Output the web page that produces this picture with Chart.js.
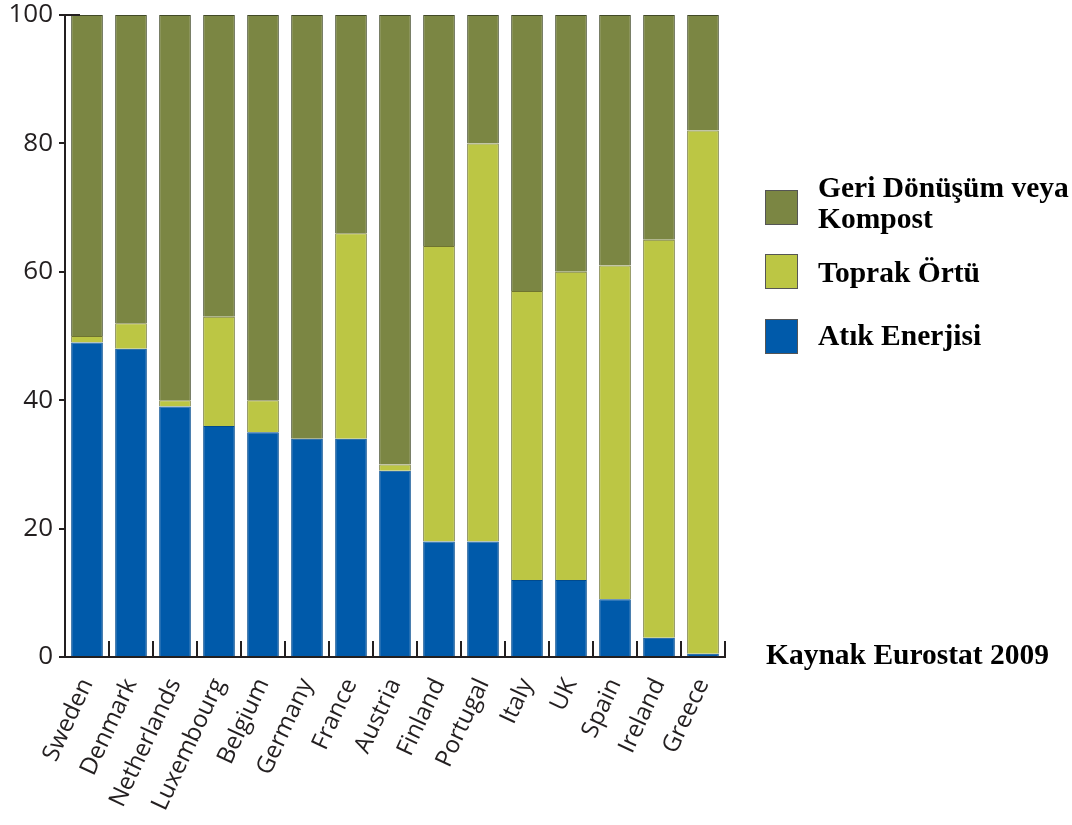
<!DOCTYPE html>
<html>
<head>
<meta charset="utf-8">
<script src="https://cdn.jsdelivr.net/npm/chart.js@4/dist/chart.umd.min.js"></script>
<style>
	body { margin: 0; background: #fff; }
	#wrap { position: relative; width: 1072px; height: 825px; }
	#chart { position: absolute; left: 0; top: 0; }
	.legend { position: absolute; left: 765px; top: 0; width: 307px; height: 400px; font-family: "Liberation Serif", "Times New Roman", serif; font-weight: bold; font-size: 29.5px; color: #000; }
	.box { position: absolute; left: 0; width: 33px; height: 35px; border: 1px solid #555; box-sizing: border-box; }
	.label { position: absolute; left: 53px; line-height: 31px; white-space: nowrap; }
	#source { position: absolute; left: 766px; top: 639px; line-height: 30px; font-family: "Liberation Serif", "Times New Roman", serif; font-weight: bold; font-size: 29.5px; white-space: nowrap; }
</style>
</head>
<body>
<div id="wrap">
	<canvas id="chart" width="1072" height="825"></canvas>
	<div class="legend" id="legend"></div>
	<div id="source">Kaynak Eurostat 2009</div>
</div>
<script>
//	Countries along the x axis
var countries = ["Sweden", "Denmark", "Netherlands", "Luxembourg", "Belgium", "Germany", "France",
	"Austria", "Finland", "Portugal", "Italy", "UK", "Spain", "Ireland", "Greece"];

//	Share of municipal waste (%) per treatment
var energyValues = [49, 48, 39, 36, 35, 34, 34, 29, 18, 18, 12, 12, 9, 3, 0.5];
var landfillValues = [1, 4, 1, 17, 5, 0, 32, 1, 46, 62, 45, 48, 52, 62, 81.5];
var recycleValues = [50, 48, 60, 47, 60, 66, 34, 70, 36, 20, 43, 40, 39, 35, 18];

var yTicks = [0, 20, 40, 60, 80, 100];

var seriesNames = ["Atık Enerjisi", "Toprak Örtü", "Geri Dönüşüm veya Kompost"];
var seriesColors = ["#005aaa", "#bcc644", "#7b8643"];
var seriesBorders = ["#004a8e", "#6f7430", "#424a28"];

/**
 *	Draws the short inward ticks on the x axis and the cap at the top of the y axis
 */
var axisMarks = {
	id: 'axisMarks',
	afterDraw: function (chart) {
		var ctx = chart.ctx;
		var x = chart.scales.x;
		var area = chart.chartArea;
		ctx.save();
		ctx.strokeStyle = '#231f20';
		ctx.lineWidth = 2;
		ctx.beginPath();
		for (let i = 1; i <= countries.length; i++) {
			var px = Math.round(x.getPixelForValue(i - 0.5));
			ctx.moveTo(px, area.bottom);
			ctx.lineTo(px, area.bottom - 16);
		}
		ctx.moveTo(area.left - 4, area.top);
		ctx.lineTo(area.left + 15, area.top);
		ctx.stroke();
		ctx.restore();
	}
};

var ctx = document.getElementById('chart');
var wasteChart = new Chart(ctx, {
	type: 'bar',
	data: {
		labels: countries,
		datasets: [{
			label: seriesNames[0],
			data: energyValues,
			backgroundColor: seriesColors[0],
			borderColor: seriesBorders[0],
			borderWidth: 1
		}, {
			label: seriesNames[1],
			data: landfillValues,
			backgroundColor: seriesColors[1],
			borderColor: seriesBorders[1],
			borderWidth: 1
		}, {
			label: seriesNames[2],
			data: recycleValues,
			backgroundColor: seriesColors[2],
			borderColor: seriesBorders[2],
			borderWidth: 1
		}]
	},
	options: {
		responsive: false,
		animation: false,
		layout: {
			padding: { top: 15, right: 347, left: 0, bottom: 0 }
		},
		plugins: {
			legend: { display: false },
			tooltip: { enabled: false }
		},
		datasets: {
			bar: { categoryPercentage: 1, barPercentage: 0.72 }
		},
		scales: {
			x: {
				stacked: true,
				offset: true,
				grid: { display: false },
				border: { display: true, color: '#231f20', width: 2 },
				ticks: {
					minRotation: 65,
					maxRotation: 65,
					autoSkip: false,
					padding: 9,
					color: '#231f20',
					font: { family: 'Open Sans', size: 24 }
				},
				afterFit: function (scale) {
					scale.height = 168;
					scale.paddingLeft = 0;
					scale.paddingRight = 0;
				}
			},
			y: {
				stacked: true,
				min: 0,
				max: 100,
				afterBuildTicks: function (scale) {
					scale.ticks = yTicks.map(function (v) { return { value: v }; });
				},
				grid: {
					drawOnChartArea: false,
					drawTicks: true,
					tickLength: 6,
					color: '#231f20',
					lineWidth: 2
				},
				border: { display: true, color: '#231f20', width: 2 },
				ticks: {
					padding: 6,
					color: '#231f20',
					font: { family: 'Open Sans', size: 26 }
				},
				afterFit: function (scale) {
					scale.width = 65;
					scale.paddingTop = 0;
					scale.paddingBottom = 0;
				}
			}
		}
	},
	plugins: [axisMarks]
});

//	Legend on the right, built from the datasets (top item is the top stack)
var legendItems = [
	{ idx: 2, top: 172, boxTop: 190, lines: ["Geri Dönüşüm veya", "Kompost"] },
	{ idx: 1, top: 257, boxTop: 254, lines: ["Toprak Örtü"] },
	{ idx: 0, top: 320, boxTop: 319, lines: ["Atık Enerjisi"] }
];
var legendEl = document.getElementById('legend');
legendItems.forEach(function (it) {
	var box = document.createElement('div');
	box.className = 'box';
	box.style.top = it.boxTop + 'px';
	box.style.background = seriesColors[it.idx];
	legendEl.appendChild(box);
	var lbl = document.createElement('div');
	lbl.className = 'label';
	lbl.style.top = it.top + 'px';
	lbl.innerHTML = it.lines.join('<br>');
	legendEl.appendChild(lbl);
});
</script>
</body>
</html>
